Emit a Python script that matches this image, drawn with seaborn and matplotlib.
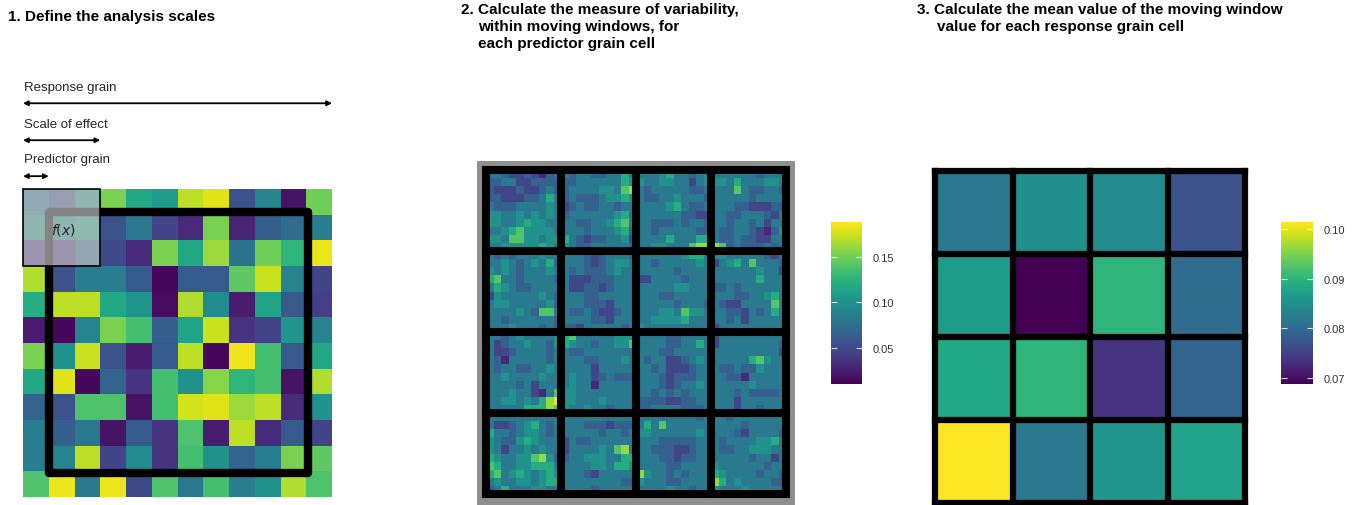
import numpy as np
import matplotlib.pyplot as plt
import seaborn as sns
from matplotlib.patches import Rectangle

W, H = 1354, 506

TITLE_1 = "1. Define the analysis scales"
TITLE_2_LINES = ["2. Calculate the measure of variability,",
                 "within moving windows, for",
                 "each predictor grain cell"]
TITLE_3_LINES = ["3. Calculate the mean value of the moving window",
                 "value for each response grain cell"]

SCALE_LABELS = ["Response grain", "Scale of effect", "Predictor grain"]
SCALE_CELLS = [12, 3, 1]   # arrow length in predictor cells

# panel 1: predictor raster (viridis position 0..1), 12 x 12
PANEL1_VALUES = [
    [0.40, 0.25, 0.55, 0.80, 0.60, 0.55, 0.90, 0.95, 0.25, 0.45, 0.05, 0.78],
    [0.55, 0.50, 0.60, 0.25, 0.40, 0.20, 0.12, 0.80, 0.10, 0.30, 0.35, 0.42],
    [0.15, 0.15, 0.35, 0.22, 0.12, 0.80, 0.60, 0.85, 0.38, 0.78, 0.65, 0.97],
    [0.88, 0.25, 0.42, 0.42, 0.28, 0.02, 0.28, 0.28, 0.75, 0.92, 0.45, 0.20],
    [0.62, 0.90, 0.90, 0.60, 0.52, 0.03, 0.88, 0.48, 0.08, 0.58, 0.28, 0.18],
    [0.08, 0.02, 0.45, 0.80, 0.70, 0.30, 0.58, 0.92, 0.15, 0.20, 0.52, 0.45],
    [0.80, 0.50, 0.92, 0.25, 0.08, 0.28, 0.90, 0.02, 0.98, 0.70, 0.28, 0.60],
    [0.60, 0.95, 0.02, 0.32, 0.15, 0.70, 0.50, 0.82, 0.65, 0.70, 0.05, 0.88],
    [0.32, 0.25, 0.72, 0.72, 0.05, 0.70, 0.93, 0.95, 0.85, 0.90, 0.12, 0.50],
    [0.42, 0.30, 0.40, 0.05, 0.28, 0.15, 0.72, 0.08, 0.90, 0.12, 0.28, 0.20],
    [0.42, 0.45, 0.90, 0.20, 0.48, 0.15, 0.70, 0.50, 0.32, 0.42, 0.80, 0.75],
    [0.72, 0.97, 0.40, 0.97, 0.22, 0.72, 0.40, 0.70, 0.42, 0.50, 0.88, 0.72],
]

# panel 2: moving-window variability, 40 x 40, read as levels 0..9
LEVEL_VALUES = [0.012, 0.03, 0.048, 0.065, 0.083, 0.10, 0.12, 0.14, 0.16, 0.185]

BAND_0 = [
    "4432232134 4344334464 4445644345 4444443444",
    "3344223333 3344444465 5445544245 5546444554",
    "3222322343 3444455478 4344444334 4447433443",
    "3322233464 3433345565 4334454443 4444434444",
    "4333444454 2343344344 4444564334 4443322233",
    "5544545454 3444444564 4444443322 4433444324",
    "5544565544 4433445674 4433343443 4434434244",
    "4456755554 4443444563 4434444433 4334432135",
    "5547755455 6432334452 4444644466 4334332244",
    "4455555654 5433444443 4455444788 8734333434",
]
BAND_1 = [
    "4343444544 4443234443 4444445664 5544444324",
    "4454345463 4443234554 4434444454 2456474443",
    "5454344454 4343334544 4444434444 4444445442",
    "6744344443 4222333444 2244443444 4444446444",
    "4654334444 4223323444 4444455444 3343444444",
    "2544444543 4443344444 4443344444 4443344564",
    "4554444453 4443332444 4444434443 4322444474",
    "4444543774 4334322344 4445547554 4433243464",
    "4434444443 4444332444 4455556444 4434244444",
    "4445444343 3324444434 5444444444 2444444444",
]
BAND_2 = [
    "4434544445 6744444555 4444334444 2444444444",
    "4234454435 6544344557 4444334464 2444444443",
    "4223444434 4334444444 4443344444 4444444442",
    "4314444434 4443344454 4344223454 4444467544",
    "4344334454 4444244444 4434222344 4334335444",
    "4454444544 4544234333 4443233344 4433144444",
    "4444342444 4544144444 4443234454 4444454444",
    "4445442147 5544444444 4434343444 4443433334",
    "4455454689 5544454444 3333223344 4442444444",
    "4444466687 5445443444 3344443334 4442443444",
]
BAND_3 = [
    "4444444444 4444444444 4444444434 4434444444",
    "4223456434 4443332333 4647444444 4444344444",
    "6443455434 4444434434 5544444454 4443244443",
    "5433565444 2433444444 4443333344 4344445564",
    "5424454544 2444454784 4433322344 4334455544",
    "6544557853 3445554466 4443323344 4444434424",
    "7644556664 4444554665 4444334444 5444444344",
    "6745654565 4443244444 8544343444 6544443443",
    "4544554566 4444444433 5444334444 8645444433",
    "3464445544 4444344444 4444544344 5444544444",
]
PANEL2_TICKS = [0.05, 0.10, 0.15]

# panel 3: mean per response grain cell, 4 x 4
PANEL3_VALUES = [
    [0.0818, 0.0851, 0.0844, 0.0770],
    [0.0867, 0.0688, 0.0900, 0.0802],
    [0.0884, 0.0900, 0.0737, 0.0792],
    [0.1014, 0.0818, 0.0858, 0.0877],
]
PANEL3_TICKS = [0.07, 0.08, 0.09, 0.10]


def px_box(x0, y0, x1, y1):
    return [x0 / W, 1 - y1 / H, (x1 - x0) / W, (y1 - y0) / H]


def decode_band(rows):
    return [[LEVEL_VALUES[int(c)] for c in r.replace(" ", "")] for r in rows]


def style_cbar(ax, ticks):
    cb = ax.collections[0].colorbar
    cb.outline.set_visible(False)
    cb.set_ticks(ticks)
    cb.set_ticklabels([f"{t:.2f}" for t in ticks])
    cb.ax.tick_params(length=0, labelsize=8, pad=8, colors="#333333")
    tr = cb.ax.get_yaxis_transform()
    cb.ax.hlines(ticks, 0, 0.2, colors="white", lw=0.8, alpha=0.8, transform=tr)
    cb.ax.hlines(ticks, 0.8, 1.0, colors="white", lw=0.8, alpha=0.8, transform=tr)


def grid_lines(ax, n, step, lw):
    for k in range(0, n + 1, step):
        ax.axhline(k, color="black", lw=lw, clip_on=False, solid_capstyle="projecting")
        ax.axvline(k, color="black", lw=lw, clip_on=False, solid_capstyle="projecting")


def title(x, y, s):
    fig.text(x / W, 1 - y / H, s, fontsize=11, fontweight="bold", va="center",
             color="black")


sns.set_theme(style="white")
plt.rcParams["font.family"] = ["Liberation Sans", "DejaVu Sans"]

fig = plt.figure(figsize=(W / 100, H / 100), dpi=100)

# ---- panel 1
ax1 = fig.add_axes(px_box(23, 190, 332, 498))
sns.heatmap(np.array(PANEL1_VALUES), cmap="viridis", vmin=0, vmax=1, cbar=False,
            xticklabels=False, yticklabels=False, ax=ax1)
ax1.add_patch(Rectangle((1.0, 0.9), 10.05, 10.15, fill=False, ec="black", lw=6,
                        joinstyle="round", clip_on=False))
ax1.add_patch(Rectangle((0, 0), 3, 3, fc="#c4c4c4", alpha=0.68, ec="none"))
ax1.add_patch(Rectangle((0, 0), 3, 3, fill=False, ec="black", lw=1.2, clip_on=False))
ax1.text(1.55, 1.55, r"$f(x)$", fontsize=10, ha="center", va="center")

label_y = [-3.96, -2.52, -1.17]
arrow_y = [-3.34, -1.90, -0.50]
for lab, cells, ty, ay in zip(SCALE_LABELS, SCALE_CELLS, label_y, arrow_y):
    ax1.text(0.04, ty, lab, fontsize=9.5, ha="left", va="center", clip_on=False)
    ax1.annotate("", xy=(cells, ay), xytext=(0, ay), annotation_clip=False,
                 arrowprops=dict(arrowstyle="<|-|>", color="black", lw=1.3,
                                 mutation_scale=7, shrinkA=0, shrinkB=0))

# ---- panel 2
fig.add_artist(Rectangle((477 / W, 0), 318 / W, 344 / H, transform=fig.transFigure,
                         fc="#8f8f8f", ec="none", zorder=0))
panel2 = np.array(decode_band(BAND_0) + decode_band(BAND_1)
                  + decode_band(BAND_2) + decode_band(BAND_3))
ax2 = fig.add_axes(px_box(486, 171, 786, 495))
cax2 = fig.add_axes(px_box(831, 223, 862, 385))
sns.heatmap(panel2, cmap="viridis", vmin=0.0104, vmax=0.1885, cbar_ax=cax2,
            xticklabels=False, yticklabels=False, ax=ax2)
grid_lines(ax2, 40, 10, 5.8)
style_cbar(ax2, PANEL2_TICKS)

# ---- panel 3
ax3 = fig.add_axes(px_box(935, 172, 1245, 504))
cax3 = fig.add_axes(px_box(1281, 223, 1313, 385))
sns.heatmap(np.array(PANEL3_VALUES), cmap="viridis", vmin=0.0688, vmax=0.1014,
            cbar_ax=cax3, xticklabels=False, yticklabels=False, ax=ax3)
grid_lines(ax3, 4, 1, 4.5)
style_cbar(ax3, PANEL3_TICKS)

# ---- titles
title(8, 17, TITLE_1)
title(461, 10, TITLE_2_LINES[0])
title(478, 27, TITLE_2_LINES[1])
title(478, 44, TITLE_2_LINES[2])
title(917, 10, TITLE_3_LINES[0])
title(937, 27, TITLE_3_LINES[1])

fig.savefig("out.png", dpi=100)
